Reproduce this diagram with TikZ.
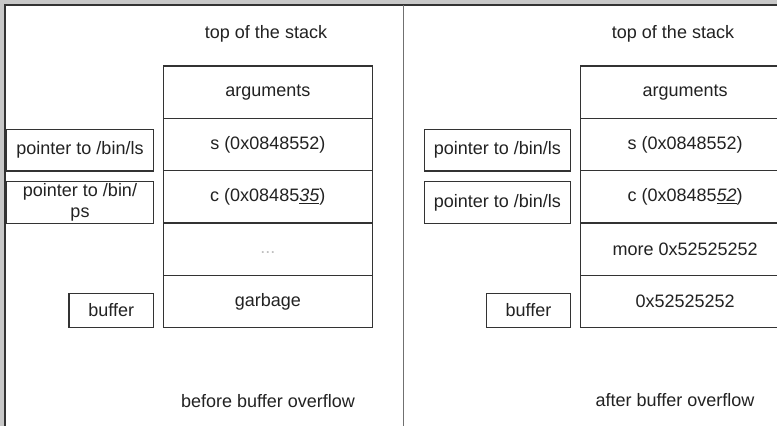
\documentclass[tikz,border=0pt]{standalone}
\usepackage{fontspec}
\setmainfont{Liberation Sans}
\usetikzlibrary{positioning}
\definecolor{framegray}{HTML}{C8C8C8}
\definecolor{linegray}{HTML}{333333}
\definecolor{inkgray}{HTML}{222222}
\newcommand{\ul}[1]{\underline{\textit{#1}}}
\tikzset{
  cell/.style={draw=linegray, line width=1.2pt, minimum width=209pt, minimum height=52.3pt,
    inner sep=0pt, outer sep=0pt, text=inkgray},
  tag/.style={draw=linegray, line width=1.2pt, minimum height=41.7pt, inner sep=0pt,
    outer sep=0pt, text=inkgray, align=center},
  note/.style={text=inkgray}
}

\begin{document}
\begin{tikzpicture}[x=1pt, y=1pt, font=\fontsize{18}{21.6}\selectfont]
      \useasboundingbox (0,0) rectangle (777,-426);
      \clip (0,0) rectangle (777,-426);
      \fill[framegray] (0,0) rectangle (777,-426);
      \fill[white] (5,-5) rectangle (777,-426);
      \draw[linegray, line width=1.5pt] (5,-426) -- (5,-5) -- (777,-5);
      \draw[linegray!70, line width=1.3pt] (403.5,-5) -- (403.5,-426);

      % before
      \node(topl) [note] at (266,-34) {top of the stack};
      \node(argl) [cell] at (267.8,-92.2) {arguments};
      \node(sl) [cell, below=0pt of argl] {s (0x0848552)};
      \node(cl) [cell, below=0pt of sl] {c (0x08485\ul{35})};
      \node(dotl) [cell, below=0pt of cl] {\raisebox{-4pt}[0pt][0pt]{\textcolor{lightgray}{...}}};
      \node(garbl) [cell, below=0pt of dotl] {garbage};
      \node(lsl) [tag, minimum width=146.6pt] at (80,-150.2) {pointer to /bin/ls};
      \node(psl) [tag, minimum width=146.6pt] at (80,-202.5) {pointer to /bin/\\ps};
      \node(bufl) [tag, minimum width=84.3pt, minimum height=34.4pt] at (111.2,-310.5) {buffer};
      \node(capl) [note] at (268,-401) {before buffer overflow};

      % after
      \node(topr) [note] at (673,-34) {top of the stack};
      \node(argr) [cell] at (685.2,-92.2) {arguments};
      \node(sr) [cell, below=0pt of argr] {s (0x0848552)};
      \node(cr) [cell, below=0pt of sr] {c (0x08485\ul{52})};
      \node(morer) [cell, below=0pt of cr] {more 0x52525252};
      \node(garbr) [cell, below=0pt of morer] {0x52525252};
      \node(lsr) [tag, minimum width=146pt] at (497.3,-150.2) {pointer to /bin/ls};
      \node(psr) [tag, minimum width=146pt] at (497.3,-202.5) {pointer to /bin/ls};
      \node(bufr) [tag, minimum width=83.6pt, minimum height=34.4pt] at (528.5,-310.5) {buffer};
      \node(capr) [note] at (675,-400) {after buffer overflow};
\end{tikzpicture}
\end{document}
